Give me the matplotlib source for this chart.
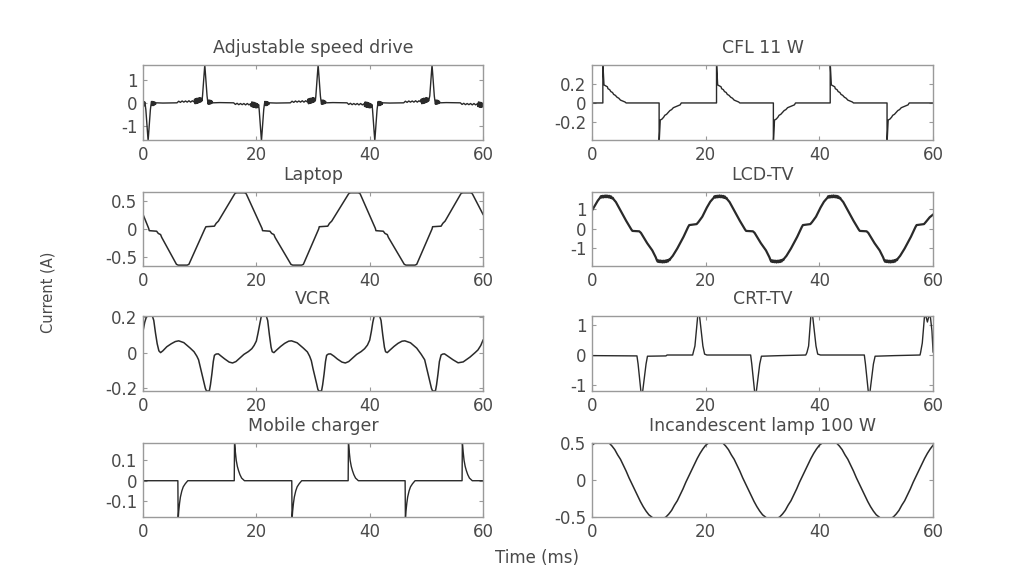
import numpy as np
import matplotlib
matplotlib.use("Agg")
import matplotlib.pyplot as plt

plt.rcParams['font.family'] = ['DejaVu Sans']
plt.rcParams['axes.unicode_minus'] = False

# ---------------- data ----------------
x_ticks = [0, 20, 40, 60]
x_tick_labels = ['0', '20', '40', '60']

titles = ['Adjustable speed drive', 'CFL 11 W', 'Laptop', 'LCD-TV',
          'VCR', 'CRT-TV', 'Mobile charger', 'Incandescent lamp 100 W']

y_limits = [(-1.62, 1.65), (-0.39, 0.40), (-0.66, 0.66), (-1.9, 1.9),
            (-0.215, 0.205), (-1.2, 1.3), (-0.178, 0.185), (-0.5, 0.5)]
y_ticks = [[-1, 0, 1], [-0.2, 0, 0.2], [-0.5, 0, 0.5], [-1, 0, 1],
           [-0.2, 0, 0.2], [-1, 0, 1], [-0.1, 0, 0.1], [-0.5, 0, 0.5]]
y_tick_labels = [['-1', '0', '1'], ['-0.2', '0', '0.2'], ['-0.5', '0', '0.5'],
                 ['-1', '0', '1'], ['-0.2', '0', '0.2'], ['-1', '0', '1'],
                 ['-0.1', '0', '0.1'], ['-0.5', '0', '0.5']]

# Adjustable speed drive (time ms, current A)
asd_pts = [
    (0.0, -0.04), (0.1, 0.06), (0.2, -0.14), (0.3, 0.04), (0.4, -0.1),
    (0.5, -0.3), (0.9, -1.66), (1.3, -0.3), (1.4, -0.1),
    (1.5, 0.06), (1.6, -0.12), (1.7, 0.06), (1.8, -0.12), (1.9, 0.05), (2.0, -0.1), (2.1, 0.03), (2.2, -0.07), (2.3, 0.0),
    (3.5, -0.01), (6.0, 0.0),
    (6.3, 0.07), (6.6, 0.02), (6.9, 0.08), (7.2, 0.03), (7.5, 0.08), (7.8, 0.03), (8.1, 0.09), (8.4, 0.03), (8.7, 0.09), (9.0, 0.04),
    (9.1, 0.16), (9.2, -0.04), (9.3, 0.18), (9.4, -0.03), (9.5, 0.2), (9.6, -0.02), (9.7, 0.2), (9.8, 0.0), (9.9, 0.22), (10.0, 0.02), (10.1, 0.22), (10.2, 0.04), (10.3, 0.2), (10.4, 0.08),
    (10.5, 0.3), (10.9, 1.66), (11.3, 0.3), (11.4, 0.1),
    (11.5, -0.06), (11.6, 0.12), (11.7, -0.06), (11.8, 0.12), (11.9, -0.05), (12.0, 0.1), (12.1, -0.03), (12.2, 0.07), (12.3, 0.0),
    (13.5, 0.01), (16.0, 0.0),
    (16.3, -0.07), (16.6, -0.02), (16.9, -0.08), (17.2, -0.03), (17.5, -0.08), (17.8, -0.03), (18.1, -0.09), (18.4, -0.03), (18.7, -0.09), (19.0, -0.04),
    (19.1, -0.16), (19.2, 0.04), (19.3, -0.18), (19.4, 0.03), (19.5, -0.2), (19.6, 0.02), (19.7, -0.2), (19.8, 0.0), (19.9, -0.22), (20.0, -0.02), (20.1, -0.22), (20.2, -0.04), (20.3, -0.2), (20.4, -0.08),
    (20.5, -0.3), (20.9, -1.66), (21.3, -0.3), (21.4, -0.1),
    (21.5, 0.06), (21.6, -0.12), (21.7, 0.06), (21.8, -0.12), (21.9, 0.05), (22.0, -0.1), (22.1, 0.03), (22.2, -0.07), (22.3, 0.0),
    (23.5, -0.01), (26.0, 0.0),
    (26.3, 0.07), (26.6, 0.02), (26.9, 0.08), (27.2, 0.03), (27.5, 0.08), (27.8, 0.03), (28.1, 0.09), (28.4, 0.03), (28.7, 0.09), (29.0, 0.04),
    (29.1, 0.16), (29.2, -0.04), (29.3, 0.18), (29.4, -0.03), (29.5, 0.2), (29.6, -0.02), (29.7, 0.2), (29.8, 0.0), (29.9, 0.22), (30.0, 0.02), (30.1, 0.22), (30.2, 0.04), (30.3, 0.2), (30.4, 0.08),
    (30.5, 0.3), (30.9, 1.66), (31.3, 0.3), (31.4, 0.1),
    (31.5, -0.06), (31.6, 0.12), (31.7, -0.06), (31.8, 0.12), (31.9, -0.05), (32.0, 0.1), (32.1, -0.03), (32.2, 0.07), (32.3, 0.0),
    (33.5, 0.01), (36.0, 0.0),
    (36.3, -0.07), (36.6, -0.02), (36.9, -0.08), (37.2, -0.03), (37.5, -0.08), (37.8, -0.03), (38.1, -0.09), (38.4, -0.03), (38.7, -0.09), (39.0, -0.04),
    (39.1, -0.16), (39.2, 0.04), (39.3, -0.18), (39.4, 0.03), (39.5, -0.2), (39.6, 0.02), (39.7, -0.2), (39.8, 0.0), (39.9, -0.22), (40.0, -0.02), (40.1, -0.22), (40.2, -0.04), (40.3, -0.2), (40.4, -0.08),
    (40.5, -0.3), (40.9, -1.66), (41.3, -0.3), (41.4, -0.1),
    (41.5, 0.06), (41.6, -0.12), (41.7, 0.06), (41.8, -0.12), (41.9, 0.05), (42.0, -0.1), (42.1, 0.03), (42.2, -0.07), (42.3, 0.0),
    (43.5, -0.01), (46.0, 0.0),
    (46.3, 0.07), (46.6, 0.02), (46.9, 0.08), (47.2, 0.03), (47.5, 0.08), (47.8, 0.03), (48.1, 0.09), (48.4, 0.03), (48.7, 0.09), (49.0, 0.04),
    (49.1, 0.16), (49.2, -0.04), (49.3, 0.18), (49.4, -0.03), (49.5, 0.2), (49.6, -0.02), (49.7, 0.2), (49.8, 0.0), (49.9, 0.22), (50.0, 0.02), (50.1, 0.22), (50.2, 0.04), (50.3, 0.2), (50.4, 0.08),
    (50.6, 0.3), (51.0, 1.66), (51.4, 0.3), (51.5, 0.1),
    (51.6, -0.06), (51.7, 0.12), (51.8, -0.06), (51.9, 0.12), (52.0, -0.05), (52.1, 0.1), (52.2, -0.03), (52.3, 0.07), (52.4, 0.0),
    (53.5, 0.01), (56.0, 0.0),
    (56.3, -0.07), (56.6, -0.02), (56.9, -0.08), (57.2, -0.03), (57.5, -0.08), (57.8, -0.03), (58.1, -0.09), (58.4, -0.03), (58.7, -0.09), (59.0, -0.04),
    (59.1, -0.16), (59.2, 0.04), (59.3, -0.18), (59.4, 0.03), (59.5, -0.2), (59.6, 0.02), (59.7, -0.2), (59.8, 0.0), (59.9, -0.18), (60.0, -0.04),
]

# CFL 11 W
cfl_pts = [
    (0.0, 0.0), (1.9, 0.0), (1.9, 0.42), (2.1, 0.19), (2.4, 0.18), (2.7, 0.17), (2.8, 0.15), (3.1, 0.14), (3.3, 0.12),
    (3.6, 0.11), (3.8, 0.09), (4.1, 0.08), (4.4, 0.06), (4.7, 0.05), (5.0, 0.03), (5.4, 0.02), (5.8, 0.01), (6.0, 0.0),
    (11.8, 0.0), (11.8, -0.42), (12.0, -0.18), (12.3, -0.17), (12.6, -0.15), (12.8, -0.13), (13.1, -0.12), (13.4, -0.1),
    (13.7, -0.08), (14.0, -0.07), (14.3, -0.05), (14.7, -0.04), (15.1, -0.03), (15.5, -0.02), (15.7, 0.0),
    (21.9, 0.0), (21.9, 0.42), (22.1, 0.19), (22.4, 0.18), (22.7, 0.17), (22.8, 0.15), (23.1, 0.14), (23.3, 0.12),
    (23.6, 0.11), (23.8, 0.09), (24.1, 0.08), (24.4, 0.06), (24.7, 0.05), (25.0, 0.03), (25.4, 0.02), (25.8, 0.01), (26.0, 0.0),
    (31.9, 0.0), (31.9, -0.42), (32.1, -0.18), (32.4, -0.17), (32.7, -0.15), (32.9, -0.13), (33.2, -0.12), (33.5, -0.1),
    (33.8, -0.08), (34.1, -0.07), (34.4, -0.05), (34.8, -0.04), (35.2, -0.03), (35.6, -0.02), (35.8, 0.0),
    (41.9, 0.0), (41.9, 0.42), (42.1, 0.19), (42.4, 0.18), (42.7, 0.17), (42.8, 0.15), (43.1, 0.14), (43.3, 0.12),
    (43.6, 0.11), (43.8, 0.09), (44.1, 0.08), (44.4, 0.06), (44.7, 0.05), (45.0, 0.03), (45.4, 0.02), (45.8, 0.01), (46.0, 0.0),
    (51.9, 0.0), (51.9, -0.42), (52.1, -0.18), (52.4, -0.17), (52.7, -0.15), (52.9, -0.13), (53.2, -0.12), (53.5, -0.1),
    (53.8, -0.08), (54.1, -0.07), (54.4, -0.05), (54.8, -0.04), (55.2, -0.03), (55.6, -0.02), (55.8, 0.0),
    (60.0, 0.0),
]

# Laptop
laptop_pts = [
    (0.0, 0.26), (1.0, 0.01), (1.1, -0.03), (2.4, -0.04), (2.7, -0.08), (3.1, -0.1), (3.3, -0.15), (5.9, -0.63),
    (6.2, -0.645), (7.8, -0.645), (8.1, -0.63),
    (10.9, 0.0), (11.1, 0.04), (12.6, 0.05), (12.9, 0.1), (13.3, 0.14), (16.2, 0.63), (16.5, 0.645), (17.9, 0.645), (18.2, 0.63),
    (21.0, 0.01), (21.1, -0.03), (22.4, -0.04), (22.7, -0.08), (23.1, -0.1), (23.3, -0.15), (26.1, -0.63),
    (26.4, -0.645), (28.0, -0.645), (28.3, -0.63),
    (31.0, 0.0), (31.1, 0.04), (32.6, 0.05), (32.9, 0.1), (33.3, 0.14), (36.3, 0.63), (36.6, 0.645), (38.0, 0.645), (38.3, 0.63),
    (41.0, 0.01), (41.1, -0.03), (42.4, -0.04), (42.7, -0.08), (43.1, -0.1), (43.3, -0.15), (46.1, -0.63),
    (46.4, -0.645), (48.0, -0.645), (48.3, -0.63),
    (51.0, 0.0), (51.1, 0.04), (52.6, 0.05), (52.9, 0.1), (53.3, 0.14), (56.1, 0.63), (56.4, 0.645), (57.8, 0.645), (58.1, 0.63),
    (60.0, 0.26),
]

# LCD-TV
lcd_pts = [
    (0.0, 0.95), (0.5, 1.2), (1.0, 1.45),
    (1.4, 1.6), (1.55, 1.68), (1.7, 1.61), (1.85, 1.7), (2.0, 1.62), (2.15, 1.71), (2.3, 1.63), (2.45, 1.72), (2.6, 1.63),
    (2.75, 1.71), (2.9, 1.62), (3.05, 1.7), (3.2, 1.6), (3.35, 1.67), (3.5, 1.57), (3.65, 1.6), (3.8, 1.52),
    (4.2, 1.38), (5.0, 0.95), (6.0, 0.42), (6.9, -0.02), (7.1, -0.1), (8.3, -0.12), (8.6, -0.2), (9.7, -0.73),
    (10.6, -1.1), (11.2, -1.45),
    (11.4, -1.6), (11.55, -1.68), (11.7, -1.61), (11.85, -1.7), (12.0, -1.62), (12.15, -1.71), (12.3, -1.63), (12.45, -1.72), (12.6, -1.63),
    (12.75, -1.71), (12.9, -1.62), (13.05, -1.7), (13.2, -1.6), (13.35, -1.67), (13.5, -1.57), (13.65, -1.6), (13.8, -1.52),
    (14.2, -1.38), (15.0, -1.0), (16.1, -0.4), (16.9, 0.1), (17.1, 0.2), (18.4, 0.25), (18.7, 0.35), (19.4, 0.63),
    (20.2, 1.1), (20.8, 1.4),
    (21.4, 1.6), (21.55, 1.68), (21.7, 1.61), (21.85, 1.7), (22.0, 1.62), (22.15, 1.71), (22.3, 1.63), (22.45, 1.72), (22.6, 1.63),
    (22.75, 1.71), (22.9, 1.62), (23.05, 1.7), (23.2, 1.6), (23.35, 1.67), (23.5, 1.57), (23.65, 1.6), (23.8, 1.52),
    (24.2, 1.38), (25.0, 0.95), (26.0, 0.42), (26.9, -0.02), (27.1, -0.1), (28.3, -0.12), (28.6, -0.2), (29.7, -0.73),
    (30.6, -1.1), (31.2, -1.45),
    (31.4, -1.6), (31.55, -1.68), (31.7, -1.61), (31.85, -1.7), (32.0, -1.62), (32.15, -1.71), (32.3, -1.63), (32.45, -1.72), (32.6, -1.63),
    (32.75, -1.71), (32.9, -1.62), (33.05, -1.7), (33.2, -1.6), (33.35, -1.67), (33.5, -1.57), (33.65, -1.6), (33.8, -1.52),
    (34.2, -1.38), (35.0, -1.0), (36.1, -0.4), (36.9, 0.1), (37.1, 0.2), (38.4, 0.25), (38.7, 0.35), (39.4, 0.63),
    (40.2, 1.1), (40.8, 1.4),
    (41.4, 1.6), (41.55, 1.68), (41.7, 1.61), (41.85, 1.7), (42.0, 1.62), (42.15, 1.71), (42.3, 1.63), (42.45, 1.72), (42.6, 1.63),
    (42.75, 1.71), (42.9, 1.62), (43.05, 1.7), (43.2, 1.6), (43.35, 1.67), (43.5, 1.57), (43.65, 1.6), (43.8, 1.52),
    (44.2, 1.38), (45.0, 0.95), (46.0, 0.42), (46.9, -0.02), (47.1, -0.1), (48.3, -0.12), (48.6, -0.2), (49.7, -0.73),
    (50.6, -1.1), (51.2, -1.45),
    (51.4, -1.6), (51.55, -1.68), (51.7, -1.61), (51.85, -1.7), (52.0, -1.62), (52.15, -1.71), (52.3, -1.63), (52.45, -1.72), (52.6, -1.63),
    (52.75, -1.71), (52.9, -1.62), (53.05, -1.7), (53.2, -1.6), (53.35, -1.67), (53.5, -1.57), (53.65, -1.6), (53.8, -1.52),
    (54.2, -1.38), (55.0, -1.0), (56.1, -0.4), (56.9, 0.1), (57.1, 0.2), (58.4, 0.25), (58.7, 0.35), (59.4, 0.6),
    (60.0, 0.74),
]

# VCR
vcr_pts = [
    (0.0, 0.12), (0.3, 0.17), (0.6, 0.2), (0.8, 0.21), (1.6, 0.21), (1.9, 0.18), (2.2, 0.11), (2.5, 0.05), (2.8, 0.01),
    (3.1, 0.0), (3.5, 0.01), (4.2, 0.033), (5.0, 0.05), (5.7, 0.062), (6.3, 0.066), (7.2, 0.056), (8.3, 0.026),
    (9.0, 0.005), (9.5, -0.02), (9.8, -0.04), (10.1, -0.08), (10.4, -0.12), (10.7, -0.16), (11.0, -0.2), (11.2, -0.215),
    (11.7, -0.215), (11.9, -0.18), (12.15, -0.12), (12.4, -0.05), (12.6, -0.015), (12.9, -0.008), (13.3, -0.007),
    (13.8, -0.02), (14.4, -0.035), (15.2, -0.053), (15.8, -0.058), (16.4, -0.05), (17.1, -0.03), (17.8, -0.01),
    (18.6, 0.006), (19.2, 0.022), (19.6, 0.04), (20.0, 0.065), (20.3, 0.11), (20.6, 0.16), (20.85, 0.2), (21.0, 0.21),
    (21.7, 0.21), (22.0, 0.18), (22.3, 0.1), (22.6, 0.03), (22.8, 0.005), (23.1, 0.0), (23.6, 0.015), (24.3, 0.035),
    (25.0, 0.052), (25.7, 0.064), (26.2, 0.066), (27.2, 0.055), (28.3, 0.025), (29.0, 0.004), (29.4, -0.02),
    (29.7, -0.045), (30.0, -0.09), (30.3, -0.13), (30.6, -0.17), (30.85, -0.205), (31.0, -0.215), (31.5, -0.215),
    (31.7, -0.18), (31.95, -0.12), (32.2, -0.05), (32.4, -0.015), (32.7, -0.008), (33.1, -0.007), (33.7, -0.02),
    (34.3, -0.036), (35.1, -0.053), (35.7, -0.058), (36.3, -0.05), (37.0, -0.03), (37.7, -0.01), (38.5, 0.006),
    (39.1, 0.022), (39.6, 0.042), (40.0, 0.07), (40.3, 0.12), (40.55, 0.17), (40.8, 0.205), (40.95, 0.21),
    (41.7, 0.21), (42.0, 0.18), (42.3, 0.1), (42.6, 0.03), (42.8, 0.005), (43.1, 0.0), (43.6, 0.015), (44.3, 0.035),
    (45.0, 0.052), (45.7, 0.064), (46.2, 0.066), (47.2, 0.055), (48.3, 0.025), (49.1, -0.01), (49.7, -0.04),
    (50.0, -0.08), (50.3, -0.12), (50.6, -0.16), (50.9, -0.2), (51.1, -0.215), (51.6, -0.215), (51.8, -0.18),
    (52.05, -0.12), (52.3, -0.05), (52.6, -0.013), (52.9, -0.008), (53.2, -0.007), (53.8, -0.02), (54.7, -0.04),
    (55.6, -0.057), (56.5, -0.052), (57.7, -0.025), (58.6, 0.0), (59.1, 0.015), (59.6, 0.04), (60.0, 0.07),
]

# CRT-TV
crt_pts = [
    (0.0, -0.02), (7.9, -0.03), (8.1, -0.3), (8.6, -1.22), (8.9, -1.22), (9.5, -0.3), (9.75, -0.04), (13.0, -0.03),
    (13.2, 0.0), (17.7, 0.0), (17.8, 0.08), (18.1, 0.3), (18.6, 1.32), (18.9, 1.32), (19.5, 0.3), (19.8, 0.03), (20.2, 0.0),
    (27.9, 0.0), (28.1, -0.3), (28.6, -1.22), (28.9, -1.22), (29.5, -0.3), (29.8, -0.04), (33.2, -0.02),
    (37.6, 0.0), (37.8, 0.08), (38.1, 0.3), (38.5, 1.32), (38.8, 1.32), (39.4, 0.3), (39.7, 0.03), (40.2, 0.0),
    (47.9, 0.0), (48.1, -0.3), (48.6, -1.22), (48.9, -1.22), (49.5, -0.3), (49.8, -0.04), (53.2, -0.02),
    (57.7, 0.0), (57.8, 0.08), (58.1, 0.4), (58.5, 1.32), (58.8, 1.25), (59.0, 1.1), (59.2, 1.25), (59.5, 1.32),
    (59.8, 0.8), (60.0, 0.1),
]

# Mobile charger
mobile_pts = [
    (0.0, 0.0), (6.15, 0.0), (6.2, -0.19), (6.3, -0.15), (6.45, -0.11), (6.6, -0.08), (6.85, -0.05), (7.1, -0.03),
    (7.45, -0.015), (7.9, 0.0),
    (16.1, 0.0), (16.15, 0.19), (16.3, 0.14), (16.45, 0.1), (16.65, 0.07), (16.85, 0.05), (17.1, 0.03), (17.4, 0.013), (17.9, 0.0),
    (26.25, 0.0), (26.3, -0.19), (26.4, -0.15), (26.55, -0.11), (26.7, -0.08), (26.95, -0.05), (27.2, -0.03),
    (27.55, -0.015), (28.0, 0.0),
    (36.2, 0.0), (36.25, 0.19), (36.4, 0.14), (36.55, 0.1), (36.75, 0.07), (36.95, 0.05), (37.2, 0.03), (37.5, 0.013), (38.0, 0.0),
    (46.25, 0.0), (46.3, -0.19), (46.4, -0.15), (46.55, -0.11), (46.7, -0.08), (46.95, -0.05), (47.2, -0.03),
    (47.55, -0.015), (48.0, 0.0),
    (56.3, 0.0), (56.35, 0.19), (56.5, 0.14), (56.65, 0.1), (56.85, 0.07), (57.05, 0.05), (57.3, 0.03), (57.6, 0.013), (58.1, 0.0),
    (60.0, 0.0),
]

# Incandescent lamp 100 W, sampled every 0.5 ms from 0 to 60 ms
lamp_t = np.arange(0, 60.25, 0.5)
lamp_i = [
    0.47, 0.50, 0.53, 0.54, 0.54, 0.52, 0.50, 0.46, 0.41, 0.34, 0.28, 0.20, 0.12, 0.03, -0.05, -0.13, -0.21, -0.29, -0.36, -0.42,
    -0.47, -0.50, -0.53, -0.54, -0.54, -0.52, -0.50, -0.46, -0.41, -0.34, -0.28, -0.20, -0.12, -0.03, 0.05, 0.13, 0.21, 0.29, 0.36, 0.42,
    0.47, 0.50, 0.53, 0.54, 0.54, 0.52, 0.50, 0.46, 0.41, 0.34, 0.28, 0.20, 0.12, 0.03, -0.05, -0.13, -0.21, -0.29, -0.36, -0.42,
    -0.47, -0.50, -0.53, -0.54, -0.54, -0.52, -0.50, -0.46, -0.41, -0.34, -0.28, -0.20, -0.12, -0.03, 0.05, 0.13, 0.21, 0.29, 0.36, 0.42,
    0.47, 0.50, 0.53, 0.54, 0.54, 0.52, 0.50, 0.46, 0.41, 0.34, 0.28, 0.20, 0.12, 0.03, -0.05, -0.13, -0.21, -0.29, -0.36, -0.42,
    -0.47, -0.50, -0.53, -0.54, -0.54, -0.52, -0.50, -0.46, -0.41, -0.34, -0.28, -0.20, -0.12, -0.03, 0.05, 0.13, 0.21, 0.29, 0.36, 0.42,
    0.47,
]

# ---------------- figure ----------------
line_color = '#2a2a2a'
spine_color = '#9a9a9a'
text_color = '#4a4a4a'

fig = plt.figure(figsize=(10.15, 5.73), dpi=100)
fig.patch.set_facecolor('white')

col_x = [0.1409, 0.5833]
col_w = [0.335, 0.336]
row_b = [0.7557, 0.5358, 0.3176, 0.0977]
row_h = [0.1309, 0.1292, 0.1309, 0.1292]

series = []
for pts in [asd_pts, cfl_pts, laptop_pts, lcd_pts, vcr_pts, crt_pts, mobile_pts]:
    t, v = zip(*pts)
    series.append((np.array(t), np.array(v)))
series.append((lamp_t, np.array(lamp_i)))

line_widths = [1.0, 1.0, 1.1, 1.6, 1.1, 1.0, 1.0, 1.1]

for k in range(8):
    r, c = divmod(k, 2)
    ax = fig.add_axes([col_x[c], row_b[r], col_w[c], row_h[r]])
    t, v = series[k]
    ax.plot(t, v, color=line_color, lw=line_widths[k])
    ax.set_xlim(0, 60)
    ax.set_ylim(*y_limits[k])
    ax.set_xticks(x_ticks)
    ax.set_xticklabels(x_tick_labels)
    ax.set_yticks(y_ticks[k])
    ax.set_yticklabels(y_tick_labels[k])
    ax.tick_params(direction='in', length=3, width=0.8, top=True, right=True,
                   colors=spine_color, labelcolor=text_color, labelsize=12, pad=4)
    for s in ax.spines.values():
        s.set_color(spine_color)
        s.set_linewidth(1.0)
    ax.set_title(titles[k], fontsize=12.5, color=text_color, pad=8.5)

fig.text(0.0473, 0.4904, 'Current (A)', rotation=90, ha='center', va='center',
         fontsize=10.5, color=text_color)
fig.text(0.529, 0.027, 'Time (ms)', ha='center', va='center', fontsize=12, color=text_color)

fig.savefig('out.png', dpi=100, facecolor='white')
